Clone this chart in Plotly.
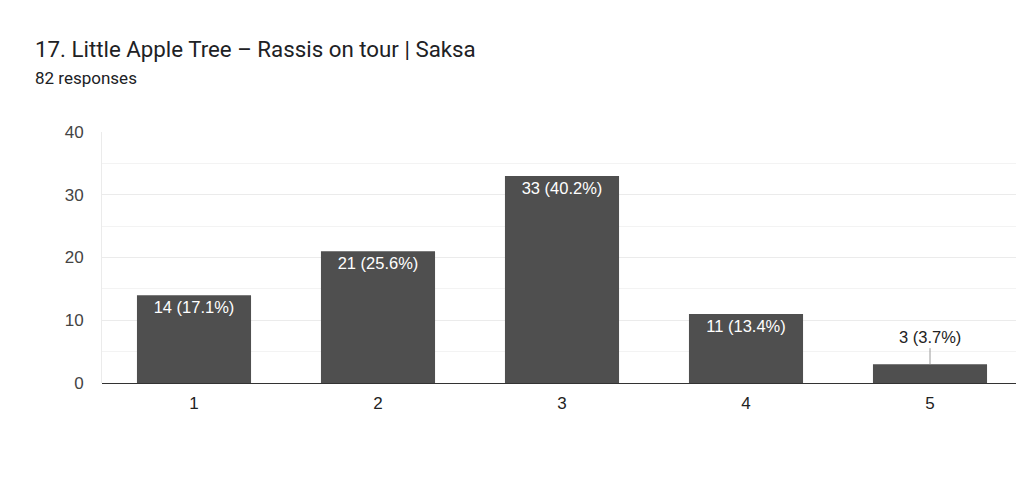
import plotly.graph_objects as go

categories = ["1", "2", "3", "4", "5"]
counts = [14, 21, 33, 11, 3]
labels = ["14 (17.1%)", "21 (25.6%)", "33 (40.2%)", "11 (13.4%)", "3 (3.7%)"]
y_ticks = [0, 10, 20, 30, 40]

title = "17. Little Apple Tree – Rassis on tour | Saksa"
subtitle = "82 responses"

# page body has an 8px margin, so the figure is offset by 8px
OFF = 8
W, H = 1024 - OFF, 487 - OFF
ML, MR, MT, MB = 102 - OFF, 2, 132 - OFF, 104
PW, PH = W - ML - MR, H - MT - MB

inside_text = [l if c >= 5 else "" for l, c in zip(labels, counts)]
label_font = dict(size=16.5, family="Liberation Sans, Arial, sans-serif")

fig = go.Figure()
fig.add_trace(go.Bar(
    x=categories, y=counts, text=inside_text,
    textposition="inside", insidetextanchor="end",
    textangle=0,
    textfont=dict(color="white", **label_font),
    marker=dict(color="#4f4f4f", line=dict(width=0)),
    cliponaxis=False,
))

for i, (v, l) in enumerate(zip(counts, labels)):
    if v < 5:
        fig.add_annotation(x=i, y=v, text=l, showarrow=True, ax=0, ay=-16,
                           arrowhead=0, arrowwidth=1, arrowcolor="#9a9a9a",
                           font=dict(color="#222222", **label_font),
                           yanchor="bottom")

fig.add_annotation(text=title, xref="paper", yref="paper",
                   x=(33 - 102) / PW, y=1 + (132 - 34) / PH, xanchor="left", yanchor="top",
                   showarrow=False, font=dict(size=22.3, color="#202124", family="Roboto"))
fig.add_annotation(text=subtitle, xref="paper", yref="paper",
                   x=(33 - 102) / PW, y=1 + (132 - 66) / PH, xanchor="left", yanchor="top",
                   showarrow=False, font=dict(size=17, color="#202124", family="Roboto"))

fig.update_layout(
    width=W, height=H,
    margin=dict(l=ML, r=MR, t=MT, b=MB, autoexpand=False),
    paper_bgcolor="white", plot_bgcolor="white",
    bargap=0.38,
    showlegend=False,
    font=dict(family="Liberation Sans, Arial, sans-serif", color="#333333"),
    xaxis=dict(showgrid=False, showline=False, ticks="", automargin=False,
               tickfont=dict(size=17, color="#222222"), ticklabelstandoff=8),
    yaxis=dict(range=[0, 40], tickvals=y_ticks, showgrid=True, gridcolor="#ebebeb",
               gridwidth=1, zeroline=True, zerolinecolor="#333333", zerolinewidth=1,
               showline=True, linecolor="#ebebeb", linewidth=1, automargin=False,
               tickfont=dict(size=17, color="#444444"), ticklabelstandoff=14,
               minor=dict(tickvals=[5, 15, 25, 35], showgrid=True, gridcolor="#f3f3f3")),
)

fig.write_html("out.html")
